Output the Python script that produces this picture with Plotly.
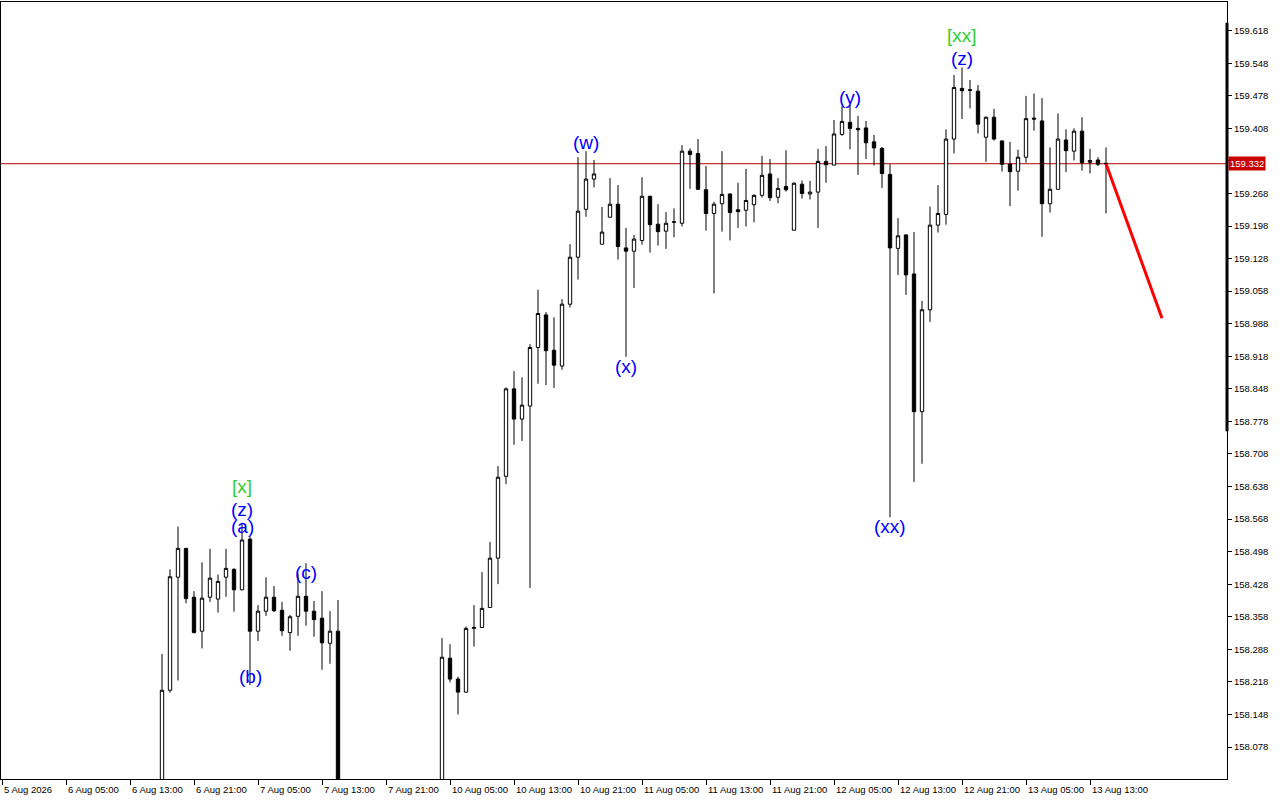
import plotly.graph_objects as go

# ---------------- data (hourly candles, bar index = hours from 5 Aug 21:00) ----------------
bar_index = list(range(20, 43)) + list(range(55, 139))

opens = [157.900, 158.200, 158.443, 158.505, 158.400, 158.327, 158.400, 158.396, 158.443, 158.460,
         158.416, 158.525, 158.327, 158.370, 158.400, 158.372, 158.324, 158.359, 158.402, 158.370,
         158.355, 158.301, 158.327,
         157.900, 158.269, 158.224, 158.196, 158.333, 158.335, 158.378, 158.484, 158.660, 158.848,
         158.783, 158.811, 158.937, 159.007, 158.931, 158.897, 159.030, 159.131, 159.234, 159.299,
         159.159, 159.217, 159.245, 159.151, 159.144, 159.167, 159.262, 159.202, 159.187, 159.206,
         159.204, 159.359, 159.354, 159.276, 159.225, 159.246, 159.267, 159.233, 159.232, 159.244,
         159.264, 159.310, 159.260, 159.283, 159.189, 159.288, 159.267, 159.271, 159.337, 159.329,
         159.395, 159.421, 159.408, 159.409, 159.379, 159.365, 159.309, 159.150, 159.179, 159.095,
         158.799, 159.018, 159.200, 159.223, 159.385, 159.494, 159.491, 159.488, 159.389, 159.432,
         159.381, 159.331, 159.316, 159.346, 159.430, 159.424, 159.246, 159.277, 159.383, 159.359,
         159.402, 159.335, 159.340, 159.333]
highs = [158.278, 158.460, 158.552, 158.506, 158.413, 158.475, 158.504, 158.449, 158.504, 158.462,
         158.560, 158.530, 158.383, 158.443, 158.424, 158.390, 158.362, 158.451, 158.473, 158.392,
         158.413, 158.370, 158.394,
         158.312, 158.299, 158.229, 158.337, 158.383, 158.454, 158.519, 158.682, 158.851, 158.886,
         158.873, 158.944, 159.061, 159.013, 159.002, 159.041, 159.159, 159.346, 159.359, 159.340,
         159.239, 159.301, 159.286, 159.194, 159.179, 159.303, 159.263, 159.245, 159.228, 159.236,
         159.372, 159.365, 159.385, 159.327, 159.250, 159.359, 159.268, 159.291, 159.321, 159.266,
         159.349, 159.342, 159.301, 159.361, 159.292, 159.296, 159.295, 159.364, 159.370, 159.426,
         159.456, 159.458, 159.435, 159.424, 159.394, 159.368, 159.331, 159.215, 159.180, 159.185,
         159.037, 159.240, 159.286, 159.406, 159.523, 159.539, 159.512, 159.501, 159.433, 159.450,
         159.382, 159.379, 159.362, 159.478, 159.483, 159.473, 159.367, 159.440, 159.406, 159.408,
         159.432, 159.364, 159.346, 159.367]
lows = [157.850, 158.195, 158.221, 158.387, 158.322, 158.290, 158.390, 158.367, 158.401, 158.369,
        158.415, 158.211, 158.306, 158.360, 158.368, 158.317, 158.285, 158.317, 158.339, 158.315,
        158.244, 158.257, 157.850,
        157.850, 158.217, 158.148, 158.195, 158.294, 158.335, 158.378, 158.428, 158.643, 158.728,
        158.736, 158.420, 158.859, 158.856, 158.850, 158.889, 159.023, 159.083, 159.218, 159.281,
        159.159, 159.217, 159.126, 158.917, 159.065, 159.158, 159.141, 159.156, 159.149, 159.174,
        159.197, 159.278, 159.276, 159.188, 159.053, 159.186, 159.167, 159.194, 159.197, 159.206,
        159.259, 159.252, 159.247, 159.272, 159.189, 159.257, 159.255, 159.194, 159.291, 159.329,
        159.392, 159.363, 159.308, 159.342, 159.328, 159.280, 158.572, 159.093, 159.050, 158.648,
        158.687, 158.992, 159.184, 159.201, 159.354, 159.428, 159.451, 159.397, 159.336, 159.382,
        159.315, 159.241, 159.274, 159.334, 159.403, 159.175, 159.227, 159.277, 159.314, 159.339,
        159.317, 159.311, 159.327, 159.225]
closes = [158.200, 158.444, 158.505, 158.397, 158.324, 158.398, 158.441, 158.434, 158.462, 158.416,
          158.523, 158.327, 158.370, 158.400, 158.371, 158.328, 158.358, 158.402, 158.370, 158.352,
          158.302, 158.327, 157.900,
          158.271, 158.224, 158.196, 158.333, 158.335, 158.376, 158.484, 158.658, 158.848, 158.783,
          158.813, 158.937, 159.010, 158.930, 158.899, 159.030, 159.131, 159.230, 159.299, 159.310,
          159.185, 159.245, 159.154, 159.144, 159.170, 159.262, 159.201, 159.186, 159.204, 159.207,
          159.359, 159.352, 159.277, 159.225, 159.245, 159.266, 159.227, 159.229, 159.253, 159.264,
          159.307, 159.259, 159.279, 159.276, 159.290, 159.268, 159.271, 159.337, 159.330, 159.396,
          159.423, 159.408, 159.405, 159.377, 159.366, 159.311, 159.151, 159.177, 159.093, 158.799,
          159.018, 159.200, 159.225, 159.385, 159.496, 159.489, 159.490, 159.417, 159.432, 159.385,
          159.331, 159.315, 159.346, 159.429, 159.428, 159.246, 159.277, 159.385, 159.360, 159.402,
          159.334, 159.339, 159.331, 159.332]

tick_index = list(range(0, 137, 8))
tick_labels = ["5 Aug 2026", "6 Aug 05:00", "6 Aug 13:00", "6 Aug 21:00", "7 Aug 05:00",
               "7 Aug 13:00", "7 Aug 21:00", "10 Aug 05:00", "10 Aug 13:00", "10 Aug 21:00",
               "11 Aug 05:00", "11 Aug 13:00", "11 Aug 21:00", "12 Aug 05:00", "12 Aug 13:00",
               "12 Aug 21:00", "13 Aug 05:00", "13 Aug 13:00"]

price_ticks = [158.078, 158.148, 158.218, 158.288, 158.358, 158.428, 158.498, 158.568, 158.638,
               158.708, 158.778, 158.848, 158.918, 158.988, 159.058, 159.128, 159.198, 159.268,
               159.338, 159.408, 159.478, 159.548, 159.618]

wave_text = ["[x]", "(z)", "(a)", "(b)", "(c)", "(w)", "(x)", "(y)", "(xx)", "[xx]", "(z)"]
wave_bar = [30, 30, 30, 31, 38, 73, 78, 106, 111, 120, 120]
wave_price = [158.637, 158.589, 158.551, 158.230, 158.454, 159.377, 158.897, 159.475, 158.553,
              159.607, 159.559]

target_bar = [138, 145]
target_price = [159.332, 159.000]

current_price = 159.332
scale_bar_range = [158.757, 159.635]

# ---------------- figure ----------------
fig = go.Figure()

fig.add_trace(go.Candlestick(
    x=bar_index, open=opens, high=highs, low=lows, close=closes,
    increasing=dict(line=dict(color="black", width=1), fillcolor="white"),
    decreasing=dict(line=dict(color="black", width=1), fillcolor="black"),
    whiskerwidth=0, hoverinfo="skip", showlegend=False,
))

fig.add_trace(go.Scatter(
    x=target_bar, y=target_price, mode="lines",
    line=dict(color="#FF0000", width=3), hoverinfo="skip", showlegend=False,
))

# current price line
fig.add_shape(type="line", xref="paper", x0=0, x1=1, yref="y",
              y0=current_price, y1=current_price,
              line=dict(color="#B40000", width=1), layer="below")
# thick bar on price scale
fig.add_shape(type="line", xref="paper", x0=1, x1=1, yref="y",
              y0=scale_bar_range[0], y1=scale_bar_range[1],
              line=dict(color="black", width=3))

annotations = []
for t, b, p in zip(wave_text, wave_bar, wave_price):
    col = "#32CD32" if t.startswith("[") else "#0000FF"
    annotations.append(dict(x=b, y=p, xref="x", yref="y", text=t, showarrow=False,
                            font=dict(family="Liberation Sans", size=19, color=col)))

for t, i in zip(tick_labels, tick_index):
    annotations.append(dict(x=i, y=0, xref="x", yref="paper", text=t, showarrow=False,
                            xanchor="left", yanchor="top", xshift=0, yshift=-3,
                            font=dict(family="Liberation Sans", size=9.5, color="black")))

annotations.append(dict(x=1, y=current_price, xref="paper", yref="y",
                        text=f"{current_price:.3f}", showarrow=False,
                        xanchor="left", xshift=1, bgcolor="#C80000", borderpad=1,
                        font=dict(family="Liberation Sans", size=9.5, color="white")))

# the tick hidden behind the current-price label keeps its mark but no text
price_tick_text = ["" if abs(v - current_price) < 0.01 else f"{v:.3f}" for v in price_ticks]

fig.update_layout(
    width=1280, height=800,
    margin=dict(l=1, r=53, t=2, b=21),
    paper_bgcolor="white", plot_bgcolor="white",
    boxgap=0.4,
    annotations=annotations,
    showlegend=False,
    xaxis=dict(range=[-0.125, 153.125], rangeslider=dict(visible=False),
               showgrid=False, zeroline=False, showline=True, linecolor="black",
               linewidth=1, mirror=True, ticks="outside", ticklen=5, tickcolor="black",
               tickvals=tick_index, showticklabels=False),
    yaxis=dict(range=[158.0092, 159.6797], side="right",
               showgrid=False, zeroline=False, showline=True, linecolor="black",
               linewidth=1, mirror=True, ticks="outside", ticklen=4, tickcolor="black",
               tickvals=price_ticks, ticktext=price_tick_text,
               tickfont=dict(family="Liberation Sans", size=9.5, color="black")),
)

fig.write_html("out.html", config={"displayModeBar": False},
               post_script="document.body.style.margin='0';document.body.style.padding='0';")
